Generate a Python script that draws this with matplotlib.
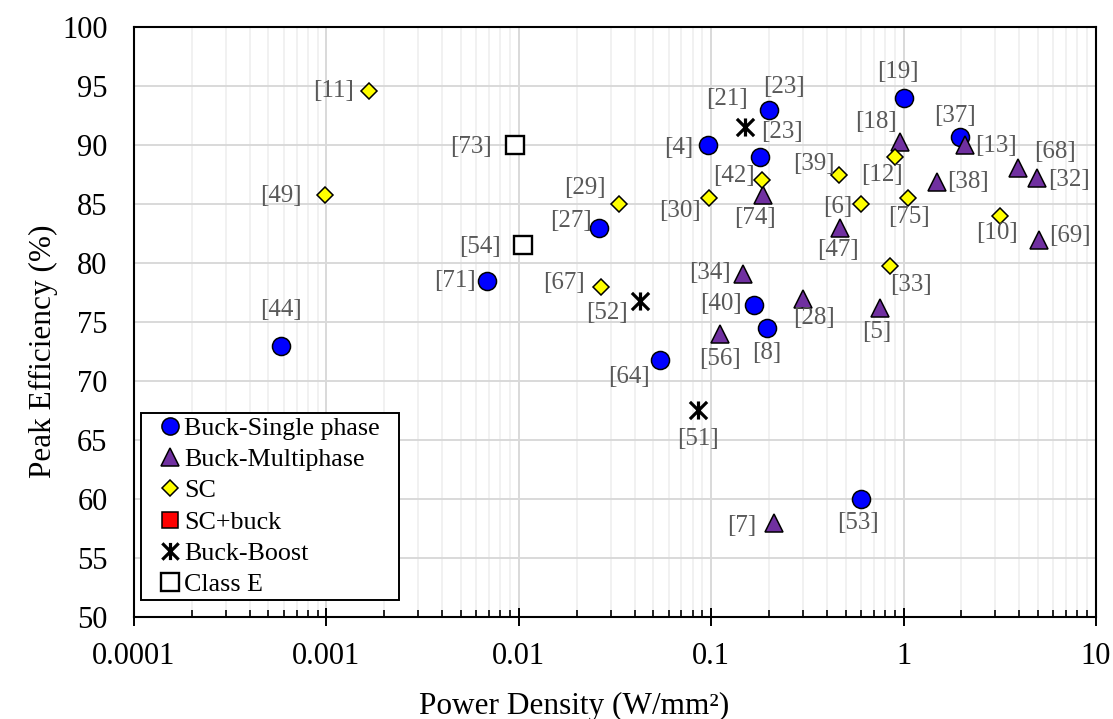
import numpy as np
import matplotlib
matplotlib.use("Agg")
import matplotlib.pyplot as plt
from matplotlib.path import Path
from matplotlib.ticker import FixedLocator, FuncFormatter, LogLocator, NullFormatter

plt.rcParams['font.family'] = ['Liberation Serif', 'DejaVu Serif']

# Buck-Single phase
single_lbl = ["[44]", "[71]", "[27]", "[4]", "[23]", "[23]", "[19]", "[37]", "[40]", "[8]", "[64]", "[53]"]
single_x = [0.00058, 0.0068, 0.026, 0.096, 0.2, 0.18, 1.0, 1.97, 0.166, 0.194, 0.054, 0.6]
single_y = [73, 78.5, 83, 90, 93, 89, 94, 90.7, 76.5, 74.5, 71.8, 60]

# Buck-Multiphase
multi_lbl = ["[18]", "[13]", "[68]", "[32]", "[38]", "[47]", "[69]", "[74]", "[34]", "[28]", "[5]", "[56]", "[7]"]
multi_x = [0.96, 2.09, 3.94, 4.94, 1.5, 0.465, 5.06, 0.185, 0.147, 0.3, 0.758, 0.111, 0.211]
multi_y = [90.3, 90, 88.1, 87.2, 86.9, 83, 82, 85.8, 79.1, 77, 76.2, 74, 58]

# SC
sc_lbl = ["[11]", "[49]", "[29]", "[67]", "[30]", "[42]", "[39]", "[12]", "[6]", "[75]", "[10]", "[33]"]
sc_x = [0.00166, 0.00098, 0.0332, 0.0267, 0.097, 0.183, 0.46, 0.906, 0.6, 1.06, 3.18, 0.855]
sc_y = [94.6, 85.8, 85, 78, 85.5, 87, 87.5, 89, 85, 85.5, 84, 79.8]

# SC+buck (no entries)
scb_lbl = []
scb_x = []
scb_y = []

# Buck-Boost
bb_lbl = ["[21]", "[52]", "[51]"]
bb_x = [0.149, 0.0426, 0.0852]
bb_y = [91.5, 76.8, 67.6]

# Class E
ce_lbl = ["[73]", "[54]"]
ce_x = [0.0096, 0.0105]
ce_y = [90, 81.5]

# label offsets (pixels, right / down)
single_off = [(0, -36), (-32, 0), (-28, -7), (-29, 3), (15, -23), (22, -25), (-6, -26), (-5, -21),
              (-33, -1), (0, 25), (-31, 17), (-3, 24)]
multi_off = [(-24, -20), (31, 1), (37, -16), (32, 2), (31, 0), (-2, 22), (31, -4), (-8, 23),
             (-33, -1), (11, 19), (-4, 24), (0, 25), (-32, 3)]
sc_off = [(-35, 0), (-44, 1), (-34, -16), (-37, -4), (-29, 13), (-28, -4), (-25, -11), (-13, 18),
          (-23, 3), (1, 19), (-3, 17), (21, 19)]
bb_off = [(-18, -28), (-33, 12), (0, 29)]
ce_off = [(-44, 2), (-43, 2)]

# asterisk marker: X plus vertical bar
star = Path([(-1, -1), (1, 1), (-1, 1), (1, -1), (0, -1.05), (0, 1.05)],
            [Path.MOVETO, Path.LINETO, Path.MOVETO, Path.LINETO, Path.MOVETO, Path.LINETO])

fig = plt.figure(figsize=(11.13, 7.19), dpi=100)
ax = fig.add_axes([0.1204, 0.1412, 0.8643, 0.8213])

series = [
    ("Buck-Single phase", single_x, single_y, single_lbl, single_off,
     dict(marker='o', ms=13, mfc='#0000FF', mec='black', mew=1.1)),
    ("Buck-Multiphase", multi_x, multi_y, multi_lbl, multi_off,
     dict(marker='^', ms=13, mfc='#7030A0', mec='black', mew=1.1)),
    ("SC", sc_x, sc_y, sc_lbl, sc_off,
     dict(marker='D', ms=8.6, mfc='#FFFF00', mec='black', mew=1.1)),
    ("SC+buck", scb_x, scb_y, scb_lbl, [],
     dict(marker='s', ms=12, mfc='#FF0000', mec='black', mew=1.1)),
    ("Buck-Boost", bb_x, bb_y, bb_lbl, bb_off,
     dict(marker=star, ms=13, mfc='none', mec='black', mew=2.3)),
    ("Class E", ce_x, ce_y, ce_lbl, ce_off,
     dict(marker='s', ms=13, mfc='white', mec='black', mew=1.7)),
]

for name, xs, ys, lbls, offs, style in series:
    ax.plot(xs, ys, linestyle='none', label=name, zorder=3, **style)
    for x, y, t, (dx, dy) in zip(xs, ys, lbls, offs):
        ax.annotate(t, (x, y), xytext=(dx, -dy), textcoords='offset pixels',
                    ha='center', va='center', fontsize=18, color='#595959', zorder=4)

ax.set_xscale('log')
ax.set_xlim(0.0001, 10)
ax.set_ylim(50, 100)
ax.yaxis.set_major_locator(FixedLocator(np.arange(50, 101, 5)))
ax.xaxis.set_major_locator(LogLocator(base=10, numticks=10))
ax.xaxis.set_minor_locator(LogLocator(base=10, subs=np.arange(2, 10), numticks=100))
ax.xaxis.set_major_formatter(FuncFormatter(lambda v, p: '{:g}'.format(v)))
ax.xaxis.set_minor_formatter(NullFormatter())

# gridlines
ax.grid(True, which='major', axis='both', color='#d9d9d9', linewidth=1.4, zorder=0)
ax.grid(True, which='minor', axis='x', color='#efefef', linewidth=1.2, zorder=0)
ax.set_axisbelow(True)

for s in ax.spines.values():
    s.set_linewidth(1.5)
    s.set_color('black')

ax.tick_params(axis='x', which='major', direction='inout', length=13, width=1.4,
               labelsize=22, pad=11.5, top=False)
ax.tick_params(axis='x', which='minor', direction='in', length=5, width=1.2, top=False)
ax.tick_params(axis='y', which='both', length=0, labelsize=22, pad=19, right=False)

ax.set_xlabel("Power Density (W/mm²)", fontsize=22.5)
ax.set_ylabel("Peak Efficiency (%)", fontsize=22.5)
ax.xaxis.set_label_coords(0.458, -0.126)
ax.yaxis.set_label_coords(-0.079, 0.451)

leg = ax.legend(loc='lower left', bbox_to_anchor=(0.0073, 0.0296, 0.268, 0), mode='expand',
                borderaxespad=0, fontsize=18.7, frameon=True, fancybox=False,
                edgecolor='black', framealpha=1, borderpad=0.15, labelspacing=0.31,
                handlelength=1.95, handletextpad=-0.45, markerscale=0.95)
leg.get_frame().set_linewidth(1.4)

fig.savefig("out.png", dpi=100)
